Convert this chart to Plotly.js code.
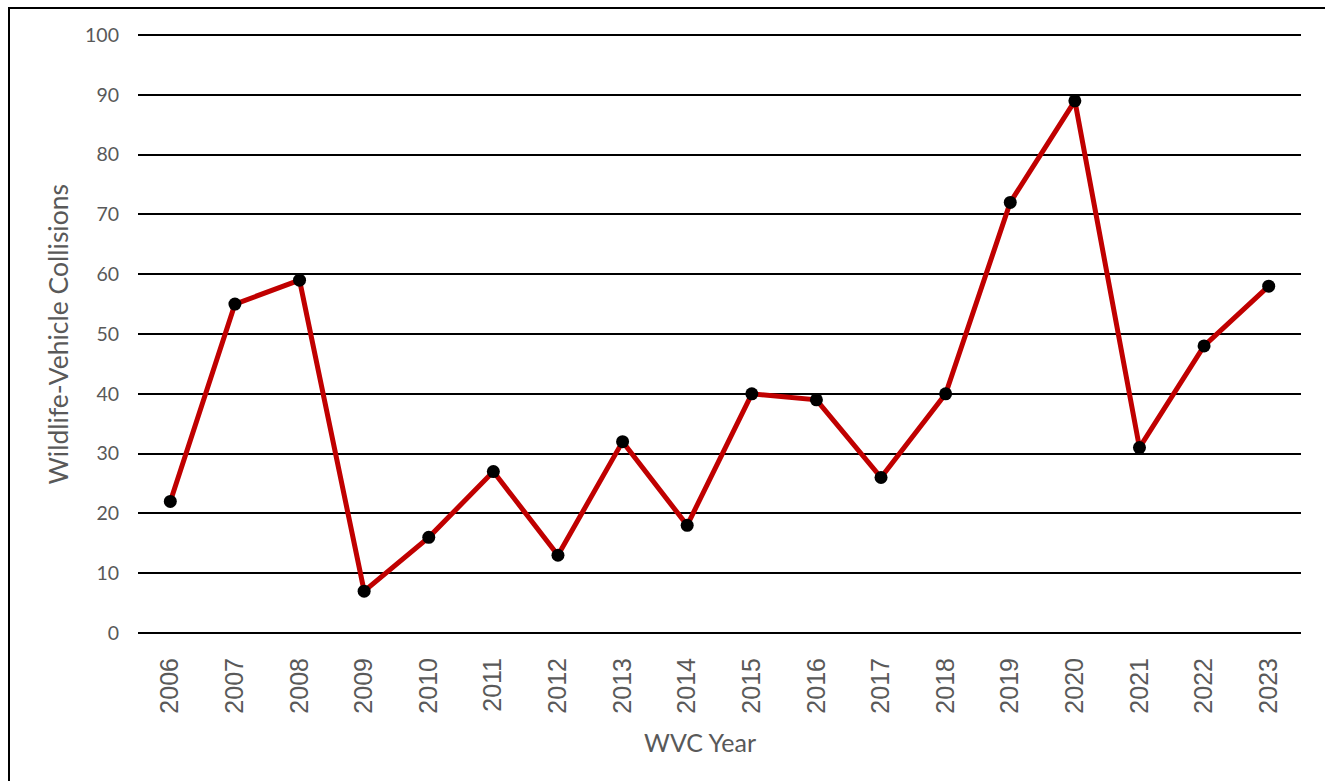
<!DOCTYPE html>
<html>
<head>
<meta charset="utf-8">
<script src="https://cdn.plot.ly/plotly-3.0.1.min.js"></script>
<style>
html,body{margin:0;padding:0;background:#fff;overflow:hidden;}
#frame{position:absolute;left:8px;top:7px;width:1400px;height:900px;border:2px solid #000;box-sizing:border-box;pointer-events:none;z-index:5;}
#chart{position:absolute;left:0;top:0;width:1325px;height:781px;}
</style>
</head>
<body>
<div id="chart"></div>
<div id="frame"></div>
<script>
const years = ["2006","2007","2008","2009","2010","2011","2012","2013","2014","2015","2016","2017","2018","2019","2020","2021","2022","2023"];
const collisions = [22,55,59,7,16,27,13,32,18,40,39,26,40,72,89,31,48,58];
const yTicks = [0,10,20,30,40,50,60,70,80,90,100];
const xTitle = "WVC Year";
const yTitle = "Wildlife-Vehicle Collisions";

const trace = {
  x: years,
  y: collisions,
  type: 'scatter',
  mode: 'lines+markers',
  line: {color: '#C00000', width: 5},
  marker: {color: '#000000', size: 13},
  hoverinfo: 'x+y'
};

const layout = {
  width: 1325,
  height: 781,
  margin: {l: 138, r: 24, t: 34, b: 147, pad: 0},
  paper_bgcolor: '#ffffff',
  plot_bgcolor: '#ffffff',
  showlegend: false,
  xaxis: {
    type: 'category',
    range: [-0.5, 17.5],
    showgrid: false,
    zeroline: false,
    showline: false,
    ticks: '',
    tickangle: -90,
    ticklabelstandoff: 18,
    tickfont: {family: 'Liberation Sans, Arial, sans-serif', size: 25, color: '#595959'},
    fixedrange: true
  },
  yaxis: {
    range: [-0.17, 100.17],
    tickvals: yTicks,
    ticktext: yTicks.map(String),
    showgrid: true,
    gridcolor: '#000000',
    gridwidth: 2,
    zeroline: true,
    zerolinecolor: '#000000',
    zerolinewidth: 2,
    showline: false,
    ticks: '',
    ticklabelstandoff: 18,
    tickfont: {family: 'Lato, sans-serif', size: 19.5, color: '#595959'},
    fixedrange: true
  },
  annotations: [
    {text: xTitle, xref: 'paper', yref: 'paper', x: 0.4832, y: -0.1806, xanchor: 'center', yanchor: 'middle', showarrow: false,
     font: {family: 'Lato, sans-serif', size: 25, color: '#595959'}},
    {text: yTitle, xref: 'paper', yref: 'paper', x: -0.0688, y: 0.5008, xanchor: 'center', yanchor: 'middle', showarrow: false, textangle: -90,
     font: {family: 'Lato, sans-serif', size: 26.5, color: '#595959'}}
  ]
};

Plotly.newPlot('chart', [trace], layout, {displayModeBar: false, staticPlot: true});
</script>
</body>
</html>
